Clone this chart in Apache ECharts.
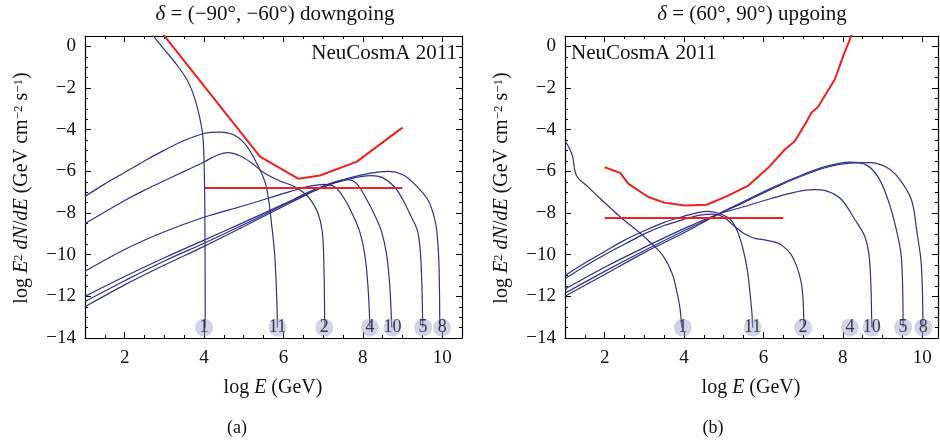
<!DOCTYPE html>
<html>
<head>
<meta charset="utf-8">
<script src="https://cdn.jsdelivr.net/npm/echarts@6/dist/echarts.min.js"></script>
<style>html,body{margin:0;padding:0;background:#fff}#c{width:940px;height:443px}</style>
</head>
<body>
<div id="c"></div>
<script>
// ---------- Data (log E, log E^2 dN/dE) ----------
// Panel (a): downgoing
const aRedLimit = [[2.96,0.6],[5.41,-5.29],[6.37,-6.35],[6.92,-6.2],[7.85,-5.53],[9.0,-3.9]];
const aRedFlat = [[4.02,-6.8],[9.0,-6.8]];
const aC1 = [[2.7,0.55],[3.0,-0.15],[3.3,-0.85],[3.57,-1.6],[3.75,-2.4],[3.9,-3.5],[3.97,-4.3],[4.0,-5.5],[4.02,-8],[4.03,-13.5]];
const aC11 = [[1,-7.2],[1.5,-6.6],[2,-6.05],[2.5,-5.5],[3,-4.98],[3.5,-4.52],[4,-4.18],[4.4,-4.12],[4.8,-4.3],[5.1,-4.85],[5.4,-5.9],[5.55,-6.6],[5.63,-7.4],[5.7,-8.5],[5.78,-10],[5.83,-12],[5.85,-13.5]];
const aC2 = [[1,-8.5],[1.5,-7.95],[2,-7.4],[2.5,-6.9],[3,-6.45],[3.5,-6.0],[4,-5.55],[4.3,-5.25],[4.6,-5.1],[4.9,-5.25],[5.2,-5.6],[5.5,-6.05],[5.9,-6.45],[6.25,-6.7],[6.5,-7.0],[6.7,-7.4],[6.87,-8.0],[6.98,-8.9],[7.02,-10.5],[7.04,-13.5]];
const aC4 = [[1,-10.8],[2,-9.75],[3,-8.9],[4,-8.2],[5,-7.65],[5.6,-7.3],[6.2,-6.95],[6.7,-6.7],[7.0,-6.62],[7.3,-6.75],[7.55,-7.36],[7.75,-8.1],[7.93,-8.94],[8.05,-10],[8.13,-11.5],[8.18,-13.5]];
const aC10 = [[1,-12.0],[2,-11.05],[3,-10.15],[4,-9.3],[5,-8.45],[6.24,-7.36],[6.8,-6.85],[7.3,-6.5],[7.6,-6.4],[7.85,-6.6],[8.1,-7.36],[8.3,-8.1],[8.48,-8.94],[8.6,-10],[8.68,-11.5],[8.73,-13.5]];
const aC5 = [[1,-12.25],[2,-11.25],[3,-10.3],[4,-9.45],[5,-8.55],[6.24,-7.4],[7,-6.75],[7.6,-6.4],[8.2,-6.2],[8.5,-6.3],[8.8,-6.75],[9.01,-7.36],[9.2,-8.1],[9.39,-8.94],[9.47,-10.5],[9.51,-13.5]];
const aC8 = [[1,-12.5],[2,-11.45],[3,-10.5],[4,-9.6],[5,-8.65],[6.24,-7.45],[7,-6.75],[7.6,-6.35],[8.2,-6.08],[8.65,-6.0],[9.0,-6.15],[9.3,-6.6],[9.64,-7.36],[9.8,-8.2],[9.87,-8.94],[9.92,-10.5],[9.94,-13.5]];
const aLabelX = [4.0,5.85,7.03,8.18,8.75,9.52,10.0];
const aLabelNames = ['1','11','2','4','10','5','8'];

// Panel (b): upgoing
const bRedLimit = [[2.0,-5.8],[2.39,-6.07],[2.6,-6.6],[3.1,-7.23],[3.5,-7.5],[4.02,-7.64],[4.57,-7.6],[5.07,-7.2],[5.62,-6.68],[6.12,-5.83],[6.54,-4.95],[6.79,-4.55],[7.09,-3.6],[7.21,-3.19],[7.38,-2.9],[7.6,-2.2],[7.8,-1.59],[8.01,-0.47],[8.18,0.34],[8.22,0.6]];
const bRedFlat = [[2.0,-8.24],[6.5,-8.24]];
const bC1 = [[1.0,-4.55],[1.1,-4.85],[1.19,-5.27],[1.29,-6.2],[1.6,-6.78],[1.92,-7.36],[2.4,-8.2],[2.89,-8.96],[3.2,-9.5],[3.48,-10.08],[3.7,-10.9],[3.81,-11.7],[3.9,-12.6],[3.94,-13.5]];
const bC11 = [[1,-11.0],[1.5,-10.4],[2,-9.85],[2.5,-9.3],[3,-8.85],[3.5,-8.45],[4,-8.15],[4.35,-7.98],[4.6,-7.92],[4.85,-8.0],[5.16,-8.3],[5.35,-8.9],[5.49,-9.76],[5.6,-10.8],[5.66,-11.8],[5.71,-12.8],[5.73,-13.5]];
const bC2 = [[1,-11.15],[1.5,-10.55],[2,-10.0],[2.5,-9.5],[3,-9.0],[3.5,-8.6],[4,-8.3],[4.4,-8.1],[4.75,-8.05],[5.0,-8.2],[5.25,-8.6],[5.49,-8.96],[5.75,-9.2],[5.99,-9.28],[6.3,-9.4],[6.5,-9.6],[6.7,-10.0],[6.84,-10.56],[6.95,-11.3],[7.0,-12.2],[7.02,-13.5]];
const bC10 = [[1,-11.65],[2,-10.6],[3,-9.65],[4,-8.75],[4.82,-8.08],[5.5,-7.7],[6.2,-7.3],[6.8,-7.0],[7.25,-6.88],[7.6,-6.95],[7.97,-7.36],[8.3,-8.3],[8.55,-9.1],[8.66,-10],[8.71,-11.5],[8.73,-13.5]];
const bC5 = [[1,-11.85],[2,-10.8],[3,-9.8],[4,-8.85],[4.82,-8.08],[5.5,-7.45],[6.2,-6.8],[7,-6.15],[7.6,-5.75],[8.18,-5.56],[8.6,-5.7],[8.9,-6.3],[9.14,-7.36],[9.35,-8.8],[9.48,-10.2],[9.52,-13.5]];
const bC8 = [[1,-12.0],[2,-10.95],[3,-9.9],[4,-8.95],[4.82,-8.1],[5.5,-7.5],[6.2,-6.85],[7,-6.2],[7.6,-5.8],[8.2,-5.6],[8.7,-5.58],[9.1,-5.8],[9.4,-6.3],[9.73,-7.36],[9.86,-8.8],[9.98,-10.5],[10.02,-13.5]];
const bLabelX = [3.97,5.73,7.0,8.18,8.73,9.52,10.03];
const bLabelNames = ['1','11','2','4','10','5','8'];
const labelY = -13.5;

// Axis ticks
const xMajor = [2,4,6,8,10];
const xMinor = [1.5,2.5,3,3.5,4.5,5,5.5,6.5,7,7.5,8.5,9,9.5,10.5];
const yMajor = [-14,-12,-10,-8,-6,-4,-2,0];
const yMinor = [-13.5,-13,-12.5,-11.5,-11,-10.5,-9.5,-9,-8.5,-7.5,-7,-6.5,-5.5,-5,-4.5,-3.5,-3,-2.5,-1.5,-1,-0.5];

// ---------- Chart ----------
const SERIF = '"Liberation Serif", "DejaVu Serif", serif';
const BLUE = '#2f3090';
const RED = '#ee2020';
const fmtMinus = v => (v < 0 ? '\u2212' + Math.abs(v) : String(v));

function xAxes(g, xmax) {
  const base = {gridIndex: g, type: 'value', min: 1, max: xmax, splitLine: {show: false}};
  return [
    Object.assign({}, base, {position: 'bottom',
      axisLine: {show: true, onZero: false, lineStyle: {color: '#000', width: 1.2}},
      axisTick: {show: true, inside: true, length: 6, customValues: xMajor, lineStyle: {color: '#000'}},
      axisLabel: {show: true, customValues: xMajor, color: '#111', fontFamily: SERIF, fontSize: 19, margin: 11}}),
    Object.assign({}, base, {position: 'bottom',
      axisLine: {show: false, onZero: false},
      axisTick: {show: true, inside: true, length: 3, customValues: xMinor, lineStyle: {color: '#000'}},
      axisLabel: {show: false}}),
    Object.assign({}, base, {position: 'top',
      axisLine: {show: true, onZero: false, lineStyle: {color: '#000', width: 1.2}},
      axisTick: {show: true, inside: true, length: 6, customValues: xMajor, lineStyle: {color: '#000'}},
      axisLabel: {show: false}}),
    Object.assign({}, base, {position: 'top',
      axisLine: {show: false, onZero: false},
      axisTick: {show: true, inside: true, length: 3, customValues: xMinor, lineStyle: {color: '#000'}},
      axisLabel: {show: false}})
  ];
}
function yAxes(g) {
  const base = {gridIndex: g, type: 'value', min: -14, max: 0.5, splitLine: {show: false}};
  return [
    Object.assign({}, base, {position: 'left',
      axisLine: {show: true, onZero: false, lineStyle: {color: '#000', width: 1.2}},
      axisTick: {show: true, inside: true, length: 6, customValues: yMajor, lineStyle: {color: '#000'}},
      axisLabel: {show: true, customValues: yMajor, formatter: fmtMinus, color: '#111', fontFamily: SERIF, fontSize: 19, margin: 9}}),
    Object.assign({}, base, {position: 'left',
      axisLine: {show: false, onZero: false},
      axisTick: {show: true, inside: true, length: 3, customValues: yMinor, lineStyle: {color: '#000'}},
      axisLabel: {show: false}}),
    Object.assign({}, base, {position: 'right',
      axisLine: {show: true, onZero: false, lineStyle: {color: '#000', width: 1.2}},
      axisTick: {show: true, inside: true, length: 6, customValues: yMajor, lineStyle: {color: '#000'}},
      axisLabel: {show: false}}),
    Object.assign({}, base, {position: 'right',
      axisLine: {show: false, onZero: false},
      axisTick: {show: true, inside: true, length: 3, customValues: yMinor, lineStyle: {color: '#000'}},
      axisLabel: {show: false}})
  ];
}

function blueLine(data, ax) {
  return {type: 'line', data: data, xAxisIndex: ax, yAxisIndex: ax, symbol: 'none', smooth: 0.35,
    lineStyle: {color: BLUE, width: 1.2}, z: 2, silent: true, animation: false};
}
function redLine(data, ax) {
  return {type: 'line', data: data, xAxisIndex: ax, yAxisIndex: ax, symbol: 'none',
    lineStyle: {color: RED, width: 2}, z: 3, silent: true, animation: false};
}
function labels(xs, names, ax) {
  return {type: 'scatter', xAxisIndex: ax, yAxisIndex: ax, symbolSize: 18, z: 5, animation: false, silent: true,
    itemStyle: {color: 'rgba(160,160,214,0.6)'},
    label: {show: true, position: 'inside', formatter: p => p.data[2], color: '#111', fontFamily: SERIF, fontSize: 18},
    data: xs.map((x, i) => [x, labelY, names[i]])};
}

const rich = {
  n: {fontFamily: SERIF, fontSize: 20, fill: '#111'},
  i: {fontFamily: SERIF, fontSize: 20, fontStyle: 'italic', fill: '#111'},
  s: {fontFamily: SERIF, fontSize: 13, fill: '#111', verticalAlign: 'top', lineHeight: 13}
};
const richT = {
  n: {fontFamily: SERIF, fontSize: 21, fill: '#111'},
  i: {fontFamily: SERIF, fontSize: 21, fontStyle: 'italic', fill: '#111'}
};
const yName = '{n|log }{i|E}{s|2}{n| }{i|dN}{n|/}{i|dE}{n| (GeV cm}{s|\u22122}{n| s}{s|\u22121}{n|)}';
function txt(x, y, text, opts) {
  return Object.assign({type: 'text', x: x, y: y, silent: true,
    style: Object.assign({text: text, rich: rich, fontFamily: SERIF, fontSize: 20, fill: '#111', align: 'center', verticalAlign: 'middle'}, opts || {})});
}

const chart = echarts.init(document.getElementById('c'), null, {renderer: 'canvas'});
chart.setOption({
  animation: false,
  backgroundColor: '#fff',
  grid: [
    {left: 85, top: 36, width: 377, height: 302},
    {left: 565, top: 36, width: 373, height: 302}
  ],
  xAxis: xAxes(0, 10.5).concat(xAxes(1, 10.4)),
  yAxis: yAxes(0).concat(yAxes(1)),
  series: [
    blueLine(aC1, 0), blueLine(aC11, 0), blueLine(aC2, 0), blueLine(aC4, 0), blueLine(aC10, 0), blueLine(aC5, 0), blueLine(aC8, 0),
    redLine(aRedLimit, 0), redLine(aRedFlat, 0), labels(aLabelX, aLabelNames, 0),
    blueLine(bC1, 4), blueLine(bC11, 4), blueLine(bC2, 4), blueLine(bC10, 4), blueLine(bC5, 4), blueLine(bC8, 4),
    redLine(bRedLimit, 4), redLine(bRedFlat, 4), labels(bLabelX, bLabelNames, 4)
  ],
  graphic: [
    txt(275, 14, '{i|\u03b4}{n| = (\u221290\u00b0, \u221260\u00b0) downgoing}', {rich: richT}),
    txt(752, 14, '{i|\u03b4}{n| = (60\u00b0, 90\u00b0) upgoing}', {rich: richT}),
    txt(457, 53, 'NeuCosmA 2011', {align: 'right', fontSize: 21}),
    txt(571, 53, 'NeuCosmA 2011', {align: 'left', fontSize: 21}),
    Object.assign(txt(22, 188, yName), {rotation: Math.PI / 2}),
    Object.assign(txt(502, 188, yName), {rotation: Math.PI / 2}),
    txt(273, 388, '{n|log }{i|E}{n| (GeV)}'),
    txt(751, 388, '{n|log }{i|E}{n| (GeV)}'),
    txt(237, 428, '(a)', {fontSize: 18}),
    txt(713, 428, '(b)', {fontSize: 18})
  ]
});
</script>
</body>
</html>
